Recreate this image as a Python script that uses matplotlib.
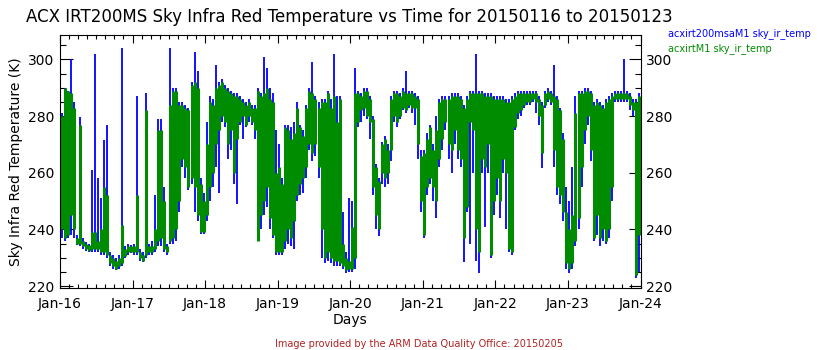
"""Sky infrared temperature from the two ACX radiometers, one week."""

import matplotlib
matplotlib.use('Agg')
import matplotlib.pyplot as plt
from matplotlib.ticker import MultipleLocator, FixedLocator
import numpy as np


# hourly low / high of each instrument, one row per day (K)
green_lo = [
    240, 237, 238, 245, 240, 235, 235, 234, 233, 232.5, 233, 233, 233, 232, 232, 231, 228, 227, 226, 227, 228, 230.5, 232, 232,
    232, 232, 230, 229, 231, 232, 232, 233, 236, 237, 233, 232, 236, 237, 240, 250, 265, 262, 255, 258, 255, 245, 239, 239,
    245, 255, 260, 270, 275, 280, 278, 270, 275, 260, 272, 278, 280, 277, 280, 278, 275, 236, 245, 250, 255, 244, 238, 232,
    232, 232, 236, 240, 237, 243, 252, 256, 258, 262, 270, 267, 270, 262, 240, 230, 232, 230, 229, 229, 228, 227, 225.5, 226,
    226, 230, 278, 282, 283, 280, 278, 255, 245, 240, 260, 258, 260, 268, 280, 278, 280, 283, 282, 284, 283, 283, 270, 250,
    238, 255, 258, 255, 250, 265, 272, 278, 270, 268, 275, 268, 265, 237, 248, 278, 275, 240, 232, 265, 262, 270, 231, 250,
    258, 250, 265, 260, 233, 232, 276, 281, 282, 284, 285, 285, 286, 285, 280, 267, 284, 286, 285, 268, 255, 252, 246, 228,
    226, 228, 236, 244, 262, 275, 280, 268, 237, 245, 237, 240, 236, 240, 255, 286, 286, 286, 286, 286, 284, 282, 224, 238,
]
green_hi = [
    280, 290, 289, 288, 283, 237, 277, 236, 235, 234.5, 239, 239, 236, 240, 255, 252, 231, 230, 229, 230, 241.5, 233, 234, 234,
    234, 252, 232, 231, 282, 234, 234, 240, 275, 275, 250, 234, 284, 289, 289, 284, 284, 283, 282, 291, 292, 290, 256, 250,
    270, 285, 284, 290, 291, 292, 290, 289, 288, 287, 287, 286, 285, 284, 285, 283, 283, 289, 287, 288, 290, 286, 285, 260,
    262, 256, 276, 275, 272, 274, 283, 276, 273, 283, 289, 288, 286, 283, 285, 285, 288, 283, 287, 278, 286, 235, 230, 229,
    241, 288, 288, 287, 289, 289, 286, 279, 262, 257, 270, 272, 268, 286, 288, 288, 287, 289, 288, 288, 288, 287, 286, 266,
    267, 272, 276, 268, 275, 285, 286, 286, 286, 287, 287, 287, 286, 283, 286, 288, 288, 288, 288, 288, 287, 287, 287, 286,
    286, 286, 286, 285, 285, 286, 287, 288, 288, 288, 288, 288, 288, 288, 286, 284, 288, 289, 288, 287, 286, 282, 272, 246,
    240, 245, 281, 288, 288, 289, 289, 288, 284, 285, 284, 283, 285, 286, 287, 288, 288, 288, 288, 288, 287, 285, 285, 287,
]
blue_lo = [
    237, 236, 237, 238, 237, 234.5, 234, 233, 232.5, 232, 232, 232, 232, 231, 231, 230, 227, 226, 225.5, 226, 227, 230, 231, 231.5,
    231, 231, 229, 228.5, 230, 231, 231, 232, 234, 234, 232, 231, 235, 235, 236, 246, 262, 258, 254, 256, 246, 243, 238.5, 238.5,
    243, 250, 255, 262, 253, 278, 276, 265, 268, 256, 249, 277, 272, 276, 278, 277, 272, 236, 240, 245, 248, 240, 237, 231,
    231, 231, 233, 235, 234, 233, 250, 252, 253, 258, 268, 264, 266, 258, 230, 228, 229, 228, 227, 227, 227, 226, 224.5, 225,
    225, 226, 276, 278, 280, 279, 272, 252, 240, 237.5, 256, 255, 256, 264, 278, 276, 279, 282, 281, 283, 281, 277, 265, 246,
    237, 252, 256, 250, 244, 262, 268, 275, 265, 260, 270, 265, 262, 228.6, 246, 235, 260, 229, 224.5, 260, 241, 260, 230, 245,
    252, 244, 260, 240, 232, 231, 275, 279, 280, 283, 284, 284, 285, 281, 277, 261.5, 283, 285, 284, 262, 252, 249, 243, 226,
    224.5, 226, 234, 240, 255, 270, 277, 264, 236, 238, 234, 236, 235, 237, 250, 285, 285, 285, 285, 285, 282, 280, 223, 225,
]
blue_hi = [
    281, 290, 289, 300, 285, 238, 279.5, 237, 235.5, 235, 261, 302, 258, 251, 271.5, 277, 232, 231, 230, 231, 304, 234, 235, 234.5,
    235, 287, 233, 232, 288, 235, 236, 252, 279, 279, 255, 235, 304, 290, 290, 285, 285, 284, 283, 292, 302.7, 296, 258, 253,
    278, 287, 286, 298, 292, 293, 291, 290, 289, 288, 288, 287, 286, 285, 286, 284, 284, 290, 288, 301, 297, 290, 288, 275,
    270, 258, 277, 277, 276, 278, 285, 277, 275, 284, 290, 299, 287, 285, 286, 286, 289, 286, 302, 287, 287, 246, 232, 251,
    250, 296.8, 289, 288, 290, 290, 287, 280, 263, 258, 271, 273, 270, 287, 289, 289, 288, 290, 296, 289, 289, 288, 287, 268,
    268, 274, 277, 270, 280, 286, 287, 287, 287, 288, 288, 288, 287, 284, 287, 289, 289, 302, 289, 289, 288, 288, 288, 287,
    287, 287, 287, 286, 286, 287, 288, 289, 289, 289, 289, 289, 289, 289, 287, 285, 289, 290, 289, 298, 287, 283, 274, 255,
    250, 262, 287, 289, 289, 290, 290, 289, 285, 286, 285, 284, 286, 287, 288, 289, 289, 289, 300, 289, 288, 286, 286, 288,
]

day_labels = ['Jan-16', 'Jan-17', 'Jan-18', 'Jan-19', 'Jan-20',
              'Jan-21', 'Jan-22', 'Jan-23', 'Jan-24']
series_names = ['acxirt200msaM1 sky_ir_temp', 'acxirtM1 sky_ir_temp']

_BLUE = '#0000ff'
_GREEN = '#008c00'
_RED = '#b22222'


def _hour_centres(n):
    # centre of each hourly bin, in days
    return (np.arange(n) + 0.5) / 24.0


def _main():
    fig = plt.figure(figsize=(8.4, 3.5), dpi=100)
    ax = fig.add_axes([60 / 840, 1 - 288.3 / 350, 580.5 / 840, 253.3 / 350])

    # each hour drawn as the range swept by the 1-minute samples
    t = _hour_centres(len(blue_lo))
    ax.vlines(t, blue_lo, blue_hi, color=_BLUE, lw=1.3, capstyle='butt')
    t = _hour_centres(len(green_lo))
    ax.vlines(t, green_lo, green_hi, color=_GREEN, lw=2.2, capstyle='butt')

    ax.set_xlim(0, 8)
    ax.set_ylim(219.2, 308.6)
    ax.xaxis.set_major_locator(FixedLocator(range(9)))
    ax.set_xticklabels(day_labels)
    ax.xaxis.set_minor_locator(MultipleLocator(0.125))
    ax.yaxis.set_major_locator(MultipleLocator(20))
    ax.yaxis.set_minor_locator(MultipleLocator(5))
    ax.tick_params(which='both', direction='in', top=True, right=True,
                   labelright=True, labelsize=10, width=0.8, color='black')
    ax.tick_params(axis='x', which='major', length=6, pad=6)
    ax.tick_params(axis='x', which='minor', length=3)
    ax.tick_params(axis='y', which='major', length=9, pad=4)
    ax.tick_params(axis='y', which='minor', length=4.5)
    for spine in ax.spines.values():
        spine.set_linewidth(0.8)

    ax.set_xlabel('Days', fontsize=10, labelpad=2)
    ax.set_ylabel('Sky Infra Red Temperature (K)', fontsize=10, labelpad=4)

    fig.text(349 / 840, 1 - 17 / 350,
             'ACX IRT200MS Sky Infra Red Temperature vs Time for 20150116 to 20150123',
             ha='center', va='center', fontsize=12)
    fig.text(668 / 840, 1 - 34 / 350, series_names[0], color=_BLUE,
             ha='left', va='center', fontsize=7)
    fig.text(668 / 840, 1 - 49 / 350, series_names[1], color=_GREEN,
             ha='left', va='center', fontsize=7)
    fig.text(419 / 840, 1 - 344 / 350,
             'Image provided by the ARM Data Quality Office: 20150205',
             color=_RED, ha='center', va='center', fontsize=7)

    fig.savefig('out.png', dpi=100)


if __name__ == '__main__':
    _main()
